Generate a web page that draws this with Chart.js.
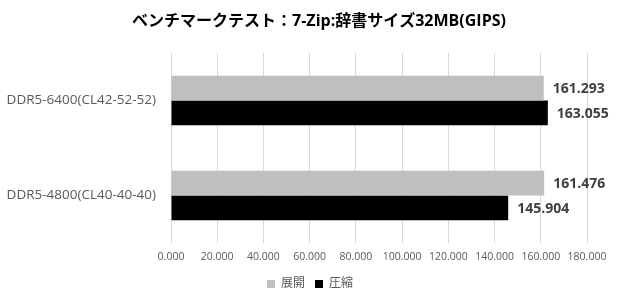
<!DOCTYPE html>
<html>
<head>
<meta charset="utf-8">
<script src="https://cdn.jsdelivr.net/npm/chart.js@4/dist/chart.umd.min.js"></script>
<style>
html,body{margin:0;padding:0;background:#fff;}
#wrap{width:620px;height:300px;position:relative;}
</style>
</head>
<body>
<div id="wrap"><canvas id="c" width="620" height="300"></canvas></div>
<script>
const titleText = 'ベンチマークテスト：7-Zip:辞書サイズ32MB(GIPS)';
const categories = ['DDR5-6400(CL42-52-52)', 'DDR5-4800(CL40-40-40)'];
const seriesNames = ['展開', '圧縮'];
const decompressValues = [161.293, 161.476];
const compressValues = [163.055, 145.904];
const seriesColors = ['#BFBFBF', '#000000'];
const xTickValues = [0, 20, 40, 60, 80, 100, 120, 140, 160, 180];

const FONT = '"Open Sans", "Noto Sans CJK JP", sans-serif';
Chart.defaults.font.family = FONT;
Chart.defaults.color = '#595959';

const chartTitle = {
  id: 'chartTitle',
  afterDraw(chart) {
    const ctx = chart.ctx;
    ctx.save();
    ctx.font = 'bold 16px ' + FONT;
    ctx.fillStyle = '#000000';
    ctx.textAlign = 'center';
    ctx.textBaseline = 'middle';
    ctx.fillText(titleText, 319, 21);
    ctx.restore();
  }
};

const valueLabels = {
  id: 'valueLabels',
  afterDatasetsDraw(chart) {
    const ctx = chart.ctx;
    ctx.save();
    ctx.font = 'bold 14px ' + FONT;
    ctx.fillStyle = '#404040';
    ctx.textAlign = 'left';
    ctx.textBaseline = 'middle';
    chart.data.datasets.forEach((ds, di) => {
      const meta = chart.getDatasetMeta(di);
      meta.data.forEach((bar, i) => {
        ctx.fillText(ds.data[i].toFixed(3), bar.x + 9, bar.y + 1);
      });
    });
    ctx.restore();
  }
};

new Chart(document.getElementById('c'), {
  type: 'bar',
  data: {
    labels: categories,
    datasets: [
      { label: seriesNames[0], data: decompressValues, backgroundColor: seriesColors[0], borderWidth: 0 },
      { label: seriesNames[1], data: compressValues, backgroundColor: seriesColors[1], borderWidth: 0 }
    ]
  },
  options: {
    indexAxis: 'y',
    responsive: false,
    animation: false,
    devicePixelRatio: 1,
    layout: { padding: { left: 0, right: 0, top: 53, bottom: 0 } },
    datasets: { bar: { categoryPercentage: 0.52, barPercentage: 1.0 } },
    scales: {
      x: {
        min: 0, max: 180,
        afterBuildTicks(scale) { scale.ticks = xTickValues.map(v => ({ value: v })); },
        afterFit(scale) { scale.height = 25; },
        grid: { color: '#D9D9D9', drawTicks: false, lineWidth: 1 },
        border: { display: false },
        ticks: {
          padding: 8,
          maxRotation: 0,
          minRotation: 0,
          autoSkip: false,
          font: { size: 10.5 },
          color: '#595959',
          callback: (v) => Number(v).toFixed(3)
        }
      },
      y: {
        afterFit(scale) { scale.width = 171; },
        grid: { display: false, drawTicks: false },
        border: { display: false },
        ticks: { padding: 15, font: { size: 13.5 }, color: '#595959' }
      },
      spacer: {
        type: 'linear',
        position: 'right',
        axis: 'y',
        display: true,
        afterFit(scale) { scale.width = 33; },
        grid: { display: false, drawTicks: false },
        border: { display: false },
        ticks: { display: false }
      }
    },
    plugins: {
      title: { display: false },
      legend: {
        position: 'bottom',
        labels: { boxWidth: 8, boxHeight: 8, padding: 10, font: { size: 12 }, color: '#595959' }
      },
      tooltip: { enabled: false }
    }
  },
  plugins: [valueLabels, chartTitle]
});
</script>
</body>
</html>
